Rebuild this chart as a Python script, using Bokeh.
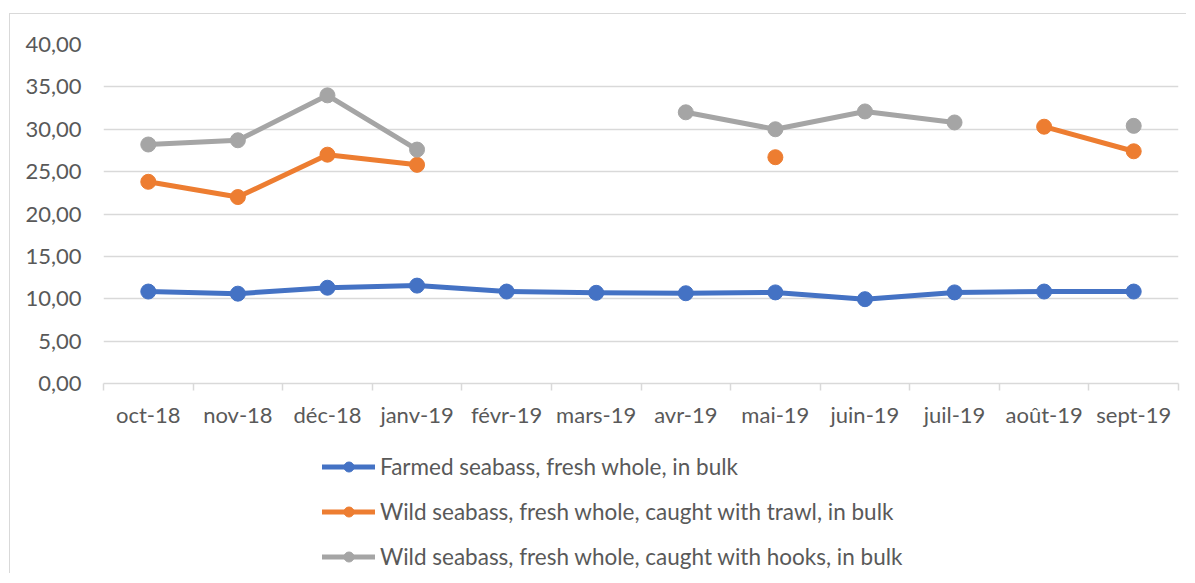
import numpy as np
from bokeh.plotting import figure
from bokeh.layouts import column
from bokeh.models import (Range1d, FixedTicker, CustomJSTickFormatter, Legend, LegendItem,
                          ColumnDataSource)
from bokeh.embed import file_html
from bokeh.resources import INLINE

nan = float("nan")

months = ["oct-18", "nov-18", "déc-18", "janv-19", "févr-19", "mars-19",
          "avr-19", "mai-19", "juin-19", "juil-19", "août-19", "sept-19"]
farmed = [10.85, 10.6, 11.3, 11.55, 10.85, 10.7, 10.65, 10.75, 9.95, 10.75, 10.85, 10.85]
trawl = [23.8, 22.0, 27.0, 25.8, nan, nan, nan, 26.7, nan, nan, 30.3, 27.4]
hooks = [28.2, 28.7, 34.0, 27.6, nan, nan, 32.0, 30.0, 32.1, 30.8, nan, 30.4]

names = ["Farmed seabass, fresh whole, in bulk",
         "Wild seabass, fresh whole, caught with trawl, in bulk",
         "Wild seabass, fresh whole, caught with hooks, in bulk"]
colors = ["#4472C4", "#ED7D31", "#A5A5A5"]
yticks = [0, 5, 10, 15, 20, 25, 30, 35, 40]

FONT = "Lato"
TXT = "#595959"
GRID = "#d9d9d9"
FS = "22px"

p = figure(width=1176, height=419, output_backend="svg", toolbar_location=None,
           x_range=Range1d(0, len(months)), y_range=Range1d(0, 40),
           min_border_left=93, min_border_right=8, min_border_top=30, min_border_bottom=50)
p.outline_line_color = None
p.background_fill_color = "white"
p.border_fill_color = "white"

# x axis: labels at category centres, ticks at boundaries
xa = p.xaxis[0]
centres = [i + 0.5 for i in range(len(months))]
xa.ticker = FixedTicker(ticks=centres, minor_ticks=list(range(len(months) + 1)))
xa.major_label_overrides = {c: m for c, m in zip(centres, months)}
xa.major_tick_out = 0
xa.major_tick_in = 0
xa.minor_tick_out = 7
xa.minor_tick_in = 0
xa.minor_tick_line_color = GRID
xa.minor_tick_line_width = 1.5
xa.axis_line_color = GRID
xa.axis_line_width = 1.5
xa.major_label_text_font = FONT
xa.major_label_text_font_size = FS
xa.major_label_text_color = TXT
xa.major_label_standoff = 10

ya = p.yaxis[0]
ya.ticker = FixedTicker(ticks=yticks)
ya.formatter = CustomJSTickFormatter(code="return tick.toFixed(2).replace('.', ',');")
ya.axis_line_color = None
ya.major_tick_out = 0
ya.major_tick_in = 0
ya.minor_tick_out = 0
ya.minor_tick_in = 0
ya.major_label_text_font = FONT
ya.major_label_text_font_size = FS
ya.major_label_text_color = TXT
ya.major_label_standoff = 22

p.xgrid.grid_line_color = None
p.ygrid.grid_line_color = GRID
p.ygrid.grid_line_width = 1.5

# legend figure below the chart
q = figure(width=1176, height=140, output_backend="svg", toolbar_location=None,
           x_range=Range1d(0, 1), y_range=Range1d(0, 1),
           x_axis_location=None, y_axis_location=None,
           min_border_left=0, min_border_right=0, min_border_top=0, min_border_bottom=0)
q.grid.visible = False
q.outline_line_color = None
q.border_fill_color = "white"
q.background_fill_color = "white"

items = []
for name, vals, col in zip(names, [farmed, trawl, hooks], colors):
    src = ColumnDataSource(dict(x=np.array(centres, dtype=float), y=np.array(vals, dtype=float)))
    p.line("x", "y", source=src, line_color=col, line_width=5,
           line_join="round", line_cap="round")
    p.scatter("x", "y", source=src, size=15, fill_color=col, line_color=col)
    dummy = ColumnDataSource(dict(x=[-10.0], y=[-10.0]))
    ln = q.line("x", "y", source=dummy, line_color=col, line_width=5, line_cap="round")
    sc = q.scatter("x", "y", source=dummy, size=13, fill_color=col, line_color=col)
    items.append(LegendItem(label=name, renderers=[ln, sc]))

legend = Legend(items=items, location=(219, 3), orientation="vertical",
                glyph_width=53, glyph_height=25, label_height=25, spacing=18,
                label_standoff=5, padding=0, margin=0,
                border_line_color=None, background_fill_alpha=0,
                label_text_font=FONT, label_text_font_size="22.5px", label_text_color=TXT)
q.add_layout(legend, "center")

layout = column(p, q, spacing=0)
layout.styles = {"margin-left": "9px", "margin-top": "13px",
                 "border-left": "1.5px solid #d9d9d9", "border-top": "1.5px solid #d9d9d9"}

open("out.html", "w").write(file_html(layout, INLINE))
